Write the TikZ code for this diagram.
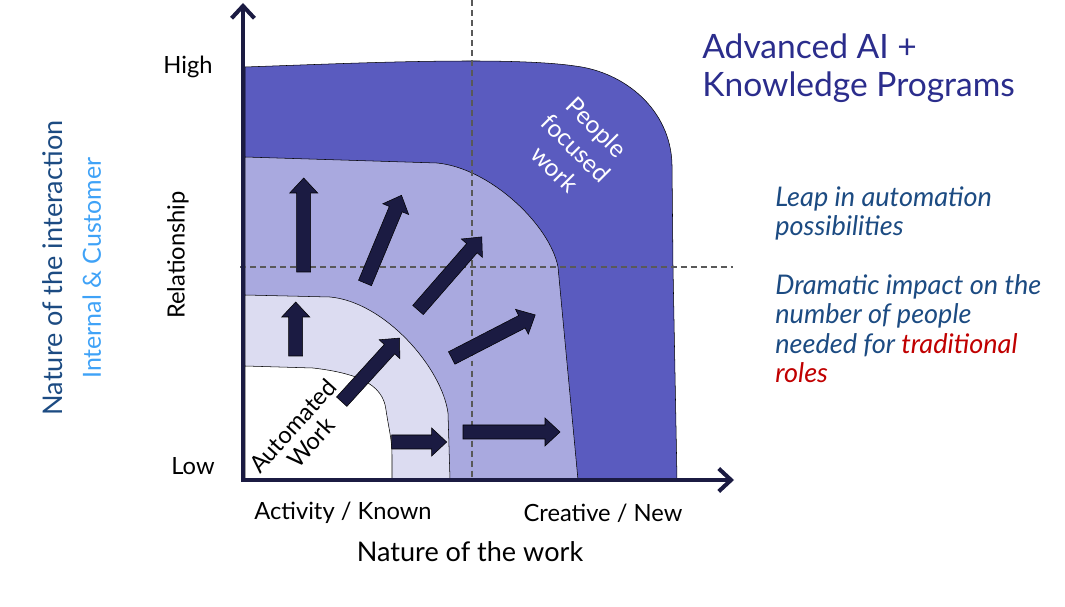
\documentclass[tikz,border=0pt]{standalone}
\usepackage{fontspec}
\setmainfont{Lato}
\usetikzlibrary{arrows.meta}

\definecolor{navy}{HTML}{1B1B42}
\definecolor{outerband}{HTML}{5A5BBF}
\definecolor{midband}{HTML}{A9A9DF}
\definecolor{innerband}{HTML}{DCDCF1}
\definecolor{titleblue}{HTML}{2B2D8C}
\definecolor{textblue}{HTML}{1C4B82}
\definecolor{skyblue}{HTML}{3FA2F7}
\definecolor{rolered}{HTML}{C00000}

\newcommand{\fsize}[2]{\fontsize{#1}{#2}\selectfont}

\begin{document}
\begin{tikzpicture}[x=0.02cm,y=-0.02cm,
    band/.style={draw=black,line width=0.3pt},
    guide/.style={gray!70!black,line width=0.7pt,dash pattern=on 3.4pt off 2.3pt},
    axis/.style={navy,line width=2.3pt,-{Straight Barb[length=7pt,width=13pt]}},
    blockarrow/.style={fill=navy,draw=black,line width=0.3pt},
    ticklabel/.style={font=\fsize{13.5}{16}},
    sidetext/.style={textblue,font=\fsize{15.4}{16.8}\itshape,align=left,anchor=base west,inner sep=0pt}]
    \useasboundingbox (0,0) rectangle (1065,607);

    % bands
    \filldraw[band,fill=outerband] (245,480) -- (245,67) .. controls (330,64) and (400,61) .. (472,61)
        .. controls (520,61) and (555,63) .. (575,66) .. controls (625,72) and (671,110) .. (672,165)
        -- (673,267) -- (677,480) -- cycle;
    \filldraw[band,fill=midband] (245,480) -- (245,157) -- (437,163)
        .. controls (490,168) and (550,225) .. (558,267) -- (578,480) -- cycle;
    \filldraw[band,fill=innerband] (245,480) -- (245,295) -- (330,297)
        .. controls (385,302) and (442,368) .. (448,413) -- (450,480) -- cycle;
    \filldraw[band,fill=white] (245,480) -- (245,366) -- (313,368)
        .. controls (355,373) and (383,383) .. (386,410)
        .. controls (389,430) and (392,440) .. (392,455) -- (392,480) -- cycle;

    % quadrant guides
    \draw[guide] (472,0) -- (472,480);
    \draw[guide] (240,267) -- (733,267);

    % block arrows: tail x / tail y / angle / length
    \foreach \x/\y/\ang/\l in {303.7/272/90/94, 365/283/67.4/95, 418/310/48.9/97,
        295.7/356/90/54, 341.7/401.7/47.7/86, 451.7/358/27.3/94,
        391.7/442/0/55, 463/432/0/97} {
        \begin{scope}[shift={(\x,\y)},rotate=\ang]
            \filldraw[blockarrow] (0,-7) -- ++({\l-15},0) -- ++(0,-7) -- ++(15,14)
                -- ++(-15,14) -- ++(0,-7) -- ++({15-\l},0) -- cycle;
        \end{scope}
    }

    % axes
    \draw[axis] (243,482) -- (243,3);
    \draw[axis] (241,480) -- (734,480);

    % axis labels
    \node[ticklabel] (high) at (188,67) {High};
    \node[ticklabel] (low) at (193,466) {Low};
    \node[ticklabel,rotate=90] (relation) at (178,255) {Relationship};
    \node[ticklabel] (known) at (343,513) {Activity / Known};
    \node[ticklabel] (new) at (603,513) {Creative / New};
    \node[font=\fsize{15.4}{17}] (work) at (470,552) {Nature of the work};
    \node[rotate=90,align=center,font=\fsize{15.4}{21.5}] (interaction) at (72,268)
        {\textcolor{textblue}{Nature of the interaction}\\\textcolor{skyblue}{\fsize{14.2}{21.5}Internal \& Customer}};

    % band labels
    \node[white,rotate=-45,align=center,font=\fsize{14}{17}] (people) at (576,148) {People\\focused\\work};
    \node[black,rotate=48,align=center,font=\fsize{13.5}{14}] (automated) at (302,434) {Automated\\Work};

    % side text
    \node[titleblue,font=\fsize{19.1}{22},align=left,anchor=base west,inner sep=0pt] (title) at (702,97)
        {Advanced AI +\\Knowledge Programs};
    \node[sidetext] (leap) at (775,236) {Leap in automation\\possibilities};
    \node[sidetext] (impact) at (775,383)
        {Dramatic impact on the\\number of people\\needed for \textcolor{rolered}{traditional}\\\textcolor{rolered}{roles}};
\end{tikzpicture}
\end{document}
